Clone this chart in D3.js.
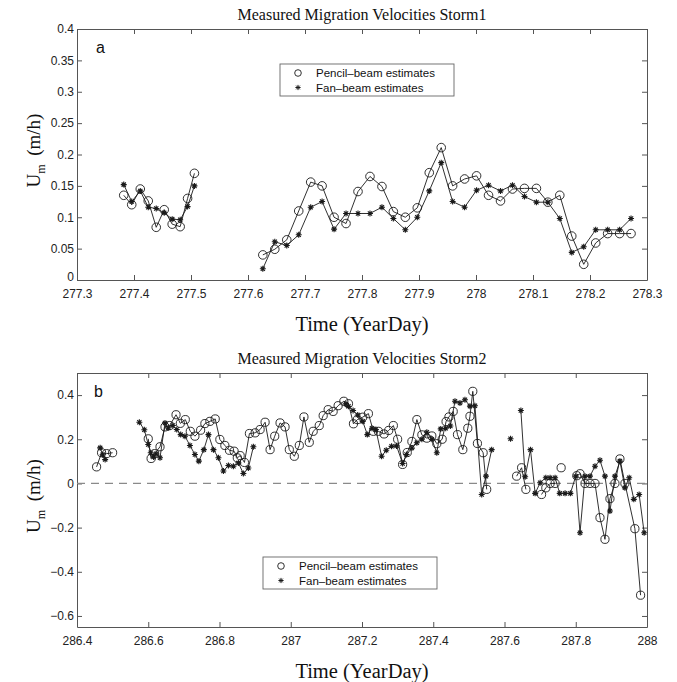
<!DOCTYPE html>
<html>
<head>
<meta charset="utf-8">
<script src="https://cdn.jsdelivr.net/npm/d3@7/dist/d3.min.js"></script>
<style>
  html, body { margin: 0; padding: 0; background: #fff; }
  svg { display: block; }
  .tick text { font-family: "Liberation Sans", Arial, sans-serif; font-size: 12px; fill: #222; }
</style>
</head>
<body>
<svg id="chart" width="677" height="682"></svg>
<script>
// ---------------- Storm 1 ----------------
const storm1TimeEarly   = [277.382, 277.396, 277.411, 277.425, 277.439, 277.453, 277.467, 277.481, 277.494, 277.506];
const storm1PencilEarly = [0.135, 0.120, 0.145, 0.126, 0.084, 0.112, 0.089, 0.085, 0.130, 0.170];
const storm1FanEarly    = [0.152, 0.125, 0.142, 0.116, 0.114, 0.107, 0.097, 0.096, 0.117, 0.150];

const storm1TimeLate = [277.626, 277.647, 277.668, 277.689, 277.710, 277.730, 277.751, 277.772,
                        277.793, 277.814, 277.835, 277.855, 277.876, 277.897, 277.918, 277.939,
                        277.959, 277.980, 278.001, 278.022, 278.043, 278.064, 278.085, 278.106,
                        278.126, 278.147, 278.168, 278.189, 278.210, 278.231, 278.252, 278.272];
const storm1PencilLate = [0.040, 0.049, 0.064, 0.110, 0.156, 0.150, 0.100, 0.090,
                          0.141, 0.165, 0.149, 0.109, 0.100, 0.115, 0.171, 0.211,
                          0.150, 0.161, 0.166, 0.135, 0.126, 0.145, 0.146, 0.146,
                          0.124, 0.135, 0.070, 0.025, 0.059, 0.074, 0.074, 0.074];
const storm1FanLate    = [0.018, 0.061, 0.055, 0.072, 0.116, 0.125, 0.081, 0.106,
                          0.106, 0.106, 0.116, 0.098, 0.080, 0.100, 0.142, 0.187,
                          0.125, 0.116, 0.143, 0.151, 0.142, 0.151, 0.133, 0.124,
                          0.124, 0.098, 0.044, 0.053, 0.080, 0.080, 0.080, 0.098];

// ---------------- Storm 2 (null marks a gap in the record) ----------------
const storm2PencilTime = [
  286.455, 286.469, 286.483, 286.500, null,
  286.600, 286.608, 286.618, 286.633, 286.647, 286.660, 286.678, 286.690, 286.704, 286.718,
  286.731, 286.747, 286.759, 286.773, 286.788, 286.801, 286.815, 286.828, 286.841, 286.850,
  286.858, 286.870, 286.884, 286.900, 286.914, 286.928, 286.942, 286.955, 286.970, 286.984,
  286.996, 287.010, 287.024, 287.037, 287.052, 287.063, 287.080, 287.091, 287.105, 287.119,
  287.133, 287.149, 287.162, 287.176, 287.187, 287.202, 287.218, 287.232, 287.246, 287.262,
  287.275, 287.288, 287.300, 287.314, 287.327, 287.340, 287.354, 287.368, 287.382, 287.396,
  287.410, 287.425, 287.436, 287.444, 287.456, 287.468, 287.483, 287.497, 287.503, 287.511,
  287.524, 287.540, 287.550, null,
  287.634, 287.648, 287.660, null,
  287.704, 287.716, 287.728, 287.742, null,
  287.759, null,
  287.803, 287.812, 287.826, 287.840, 287.854, 287.868, 287.882, 287.896, 287.910, 287.924,
  287.938, 287.966, 287.982
];
const storm2Pencil = [
  0.075, 0.139, 0.135, 0.139, null,
  0.202, 0.113, 0.135, 0.166, 0.256, 0.262, 0.311, 0.272, 0.289, 0.236,
  0.214, 0.241, 0.271, 0.281, 0.292, 0.199, 0.172, 0.150, 0.146, 0.116,
  0.126, 0.095, 0.226, 0.229, 0.244, 0.277, 0.153, 0.214, 0.274, 0.256,
  0.153, 0.123, 0.172, 0.301, 0.186, 0.236, 0.262, 0.307, 0.334, 0.326,
  0.352, 0.372, 0.361, 0.270, 0.289, 0.300, 0.316, 0.236, 0.236, 0.224,
  0.240, 0.262, 0.200, 0.086, 0.140, 0.190, 0.289, 0.220, 0.205, 0.215,
  0.180, 0.200, 0.280, 0.301, 0.326, 0.221, 0.153, 0.250, 0.304, 0.417,
  0.181, 0.139, -0.027, null,
  0.033, 0.071, -0.027, null,
  -0.050, -0.020, 0.000, 0.000, null,
  0.071, null,
  0.035, 0.044, 0.000, 0.000, 0.000, -0.155, -0.253, -0.069, 0.000, 0.111,
  0.000, -0.205, -0.506
];

const storm2FanTime = [
  286.465, 286.472, 286.479, null,
  286.575, 286.589, 286.600, 286.607, 286.615, 286.622, 286.633, 286.647, 286.656, 286.669,
  286.680, 286.691, 286.703, 286.717, 286.731, 286.742, 286.756, 286.769, 286.783, 286.797,
  286.811, 286.825, 286.839, 286.853, 286.867, 286.881, 286.895, null,
  287.155, 287.162, 287.175, 287.188, 287.202, 287.215, 287.228, 287.239, 287.255, 287.268,
  287.283, 287.297, 287.314, 287.325, 287.340, 287.354, 287.368, 287.382, 287.396, 287.410,
  287.421, 287.435, 287.448, 287.461, 287.475, 287.489, 287.503, 287.517, 287.536, 287.548,
  287.564, null,
  287.617, null,
  287.646, 287.658, 287.673, 287.686, 287.700, 287.716, 287.728, 287.742, 287.755, 287.770,
  287.785, 287.800, 287.812, 287.826, 287.840, 287.854, 287.868, 287.882, 287.896, 287.910,
  287.924, 287.938, 287.950, 287.963, 287.978, 287.992
];
const storm2Fan = [
  0.161, 0.130, 0.108, null,
  0.277, 0.243, 0.176, 0.139, 0.120, 0.134, 0.116, 0.274, 0.251, 0.262,
  0.244, 0.221, 0.214, 0.172, 0.131, 0.101, 0.153, 0.221, 0.153, 0.116,
  0.056, 0.081, 0.078, 0.093, 0.045, 0.070, 0.166, null,
  0.360, 0.349, 0.330, 0.310, 0.281, 0.221, 0.250, 0.244, 0.123, 0.150,
  0.168, 0.170, 0.090, 0.131, 0.160, 0.184, 0.200, 0.232, 0.200, 0.139,
  0.247, 0.250, 0.260, 0.372, 0.364, 0.379, 0.350, 0.352, -0.050, 0.033,
  0.153, null,
  0.202, null,
  0.330, 0.030, 0.153, -0.045, 0.003, 0.026, 0.026, 0.026, -0.045, -0.045,
  -0.045, 0.033, -0.223, 0.033, 0.033, 0.078, 0.105, 0.033, -0.125, 0.033,
  0.101, -0.020, 0.026, -0.072, -0.050, -0.223
];

// ---------------- Axis ticks ----------------
const storm1XTicks = [277.3, 277.4, 277.5, 277.6, 277.7, 277.8, 277.9, 278, 278.1, 278.2, 278.3];
const storm1YTicks = [0, 0.05, 0.1, 0.15, 0.2, 0.25, 0.3, 0.35, 0.4];
const storm2XTicks = [286.4, 286.6, 286.8, 287, 287.2, 287.4, 287.6, 287.8, 288];
const storm2YTicks = [-0.6, -0.4, -0.2, 0, 0.2, 0.4];

const legendLabels = ["Pencil\u2013beam estimates", "Fan\u2013beam estimates"];

// ---------------- Drawing ----------------
const svg = d3.select("#chart");
const INK = "#1a1a1a";
const FRAME = "#555";
const SERIF = "'Liberation Serif', 'Times New Roman', serif";
const SANS = "'Liberation Sans', Arial, sans-serif";

const numFmt = d => {
  const s = String(+d.toFixed(3));
  return s.replace("-", "\u2212");
};

function zip(ts, vs) {
  return ts.map((t, i) => ({ t, v: vs[i] }));
}

function starPath(r) {
  const d = r * Math.SQRT1_2;
  return `M${-r},0L${r},0M0,${-r}L0,${r}M${-d},${-d}L${d},${d}M${-d},${d}L${d},${-d}`;
}

function drawPanel(cfg) {
  const { x, y, xTicks, yTicks, title, tag } = cfg;
  const [x0, x1] = x.range();
  const [y0, y1] = y.range(); // y0 bottom, y1 top
  const g = svg.append("g");

  // frame with inward ticks on all four sides
  const bottom = g.append("g").attr("transform", `translate(0,${y0})`)
    .call(d3.axisBottom(x).tickValues(xTicks).tickSizeInner(-5).tickSizeOuter(0).tickPadding(9).tickFormat(numFmt));
  const top = g.append("g").attr("transform", `translate(0,${y1})`)
    .call(d3.axisTop(x).tickValues(xTicks).tickSizeInner(-5).tickSizeOuter(0).tickFormat(""));
  const left = g.append("g").attr("transform", `translate(${x0},0)`)
    .call(d3.axisLeft(y).tickValues(yTicks).tickSizeInner(-5).tickSizeOuter(0).tickPadding(3).tickFormat(numFmt));
  const right = g.append("g").attr("transform", `translate(${x1},0)`)
    .call(d3.axisRight(y).tickValues(yTicks).tickSizeInner(-5).tickSizeOuter(0).tickFormat(""));
  [bottom, top, left, right].forEach(a => {
    a.select(".domain").attr("stroke", FRAME).attr("stroke-width", 1);
    a.selectAll(".tick line").attr("stroke", FRAME);
  });
  // the lowest y label sits right on the frame corner; lift it clear of the x labels
  if (y.domain()[0] === yTicks[0]) {
    left.selectAll(".tick text").filter(d => d === yTicks[0]).attr("dy", "0.05em");
  }

  // zero reference
  if (cfg.zeroLine) {
    g.append("line")
      .attr("x1", x0).attr("x2", x1).attr("y1", y(0)).attr("y2", y(0))
      .attr("stroke", "#8a8a8a").attr("stroke-width", 1.2).attr("stroke-dasharray", "8,6");
  }

  const line = d3.line().defined(d => d.t != null && d.v != null).x(d => x(d.t)).y(d => y(d.v));

  cfg.series.forEach(s => {
    const pts = zip(s.t, s.v);
    g.append("path").datum(pts)
      .attr("d", line).attr("fill", "none").attr("stroke", INK).attr("stroke-width", 0.9);
    const valid = pts.filter(d => d.t != null && d.v != null);
    if (s.kind === "circle") {
      g.append("g").selectAll("circle").data(valid).join("circle")
        .attr("cx", d => x(d.t)).attr("cy", d => y(d.v)).attr("r", cfg.r)
        .attr("fill", "none").attr("stroke", INK).attr("stroke-width", 0.9);
    } else {
      g.append("g").selectAll("path").data(valid).join("path")
        .attr("transform", d => `translate(${x(d.t)},${y(d.v)})`)
        .attr("d", starPath(3)).attr("fill", "none").attr("stroke", INK).attr("stroke-width", 1.1);
    }
  });

  // title
  g.append("text").attr("x", (x0 + x1) / 2).attr("y", y1 - 9)
    .attr("text-anchor", "middle")
    .style("font-family", SERIF).style("font-size", "16px").attr("fill", "#111")
    .text(title);

  // x label
  g.append("text").attr("x", (x0 + x1) / 2).attr("y", y0 + 51)
    .attr("text-anchor", "middle")
    .style("font-family", SERIF).style("font-size", "20.5px").attr("fill", "#111")
    .text("Time (YearDay)");

  // y label: U_m (m/h)
  const yl = g.append("text")
    .attr("transform", `translate(40,${(y0 + y1) / 2 - 4}) rotate(-90)`)
    .attr("text-anchor", "middle")
    .style("font-family", SERIF).style("font-size", "19px").attr("fill", "#111");
  yl.append("tspan").text("U");
  yl.append("tspan").attr("dy", 5).style("font-size", "12px").text("m");
  yl.append("tspan").attr("dy", -5).text("\u2009 (m/h)");

  // panel tag
  g.append("text").attr("x", x0 + cfg.tagDx).attr("y", y1 + 24)
    .style("font-family", SANS).style("font-size", "16px").attr("fill", "#111")
    .text(tag);

  // legend
  const L = cfg.legend;
  const lg = g.append("g").attr("transform", `translate(${L.x},${L.y})`);
  lg.append("rect").attr("width", L.w).attr("height", L.h)
    .attr("fill", "#fff").attr("stroke", "#666").attr("stroke-width", 0.9);
  legendLabels.forEach((lab, i) => {
    const cy = 9 + i * 14.5;
    if (i === 0) {
      lg.append("circle").attr("cx", 18).attr("cy", cy).attr("r", 3.3)
        .attr("fill", "none").attr("stroke", INK).attr("stroke-width", 0.9);
    } else {
      lg.append("path").attr("transform", `translate(18,${cy})`).attr("d", starPath(2.6))
        .attr("fill", "none").attr("stroke", INK).attr("stroke-width", 1);
    }
    lg.append("text").attr("x", 36).attr("y", cy + 4)
      .style("font-family", SANS).style("font-size", "11.5px").attr("fill", "#111")
      .text(lab);
  });
}

drawPanel({
  x: d3.scaleLinear().domain([277.3, 278.3]).range([77, 647]),
  y: d3.scaleLinear().domain([0, 0.4]).range([280, 29]),
  xTicks: storm1XTicks, yTicks: storm1YTicks,
  title: "Measured Migration Velocities Storm1", tag: "a", tagDx: 19,
  r: 4.3, zeroLine: false,
  legend: { x: 280, y: 64, w: 174, h: 32 },
  series: [
    { kind: "circle", t: storm1TimeEarly, v: storm1PencilEarly },
    { kind: "circle", t: storm1TimeLate,  v: storm1PencilLate },
    { kind: "star",   t: storm1TimeEarly, v: storm1FanEarly },
    { kind: "star",   t: storm1TimeLate,  v: storm1FanLate }
  ]
});

drawPanel({
  x: d3.scaleLinear().domain([286.4, 288]).range([77, 647]),
  y: d3.scaleLinear().domain([-0.65, 0.5]).range([627, 373]),
  xTicks: storm2XTicks, yTicks: storm2YTicks,
  title: "Measured Migration Velocities Storm2", tag: "b", tagDx: 17,
  r: 4.1, zeroLine: true,
  legend: { x: 263, y: 557, w: 174, h: 32 },
  series: [
    { kind: "circle", t: storm2PencilTime, v: storm2Pencil },
    { kind: "star",   t: storm2FanTime,    v: storm2Fan }
  ]
});
</script>
</body>
</html>
